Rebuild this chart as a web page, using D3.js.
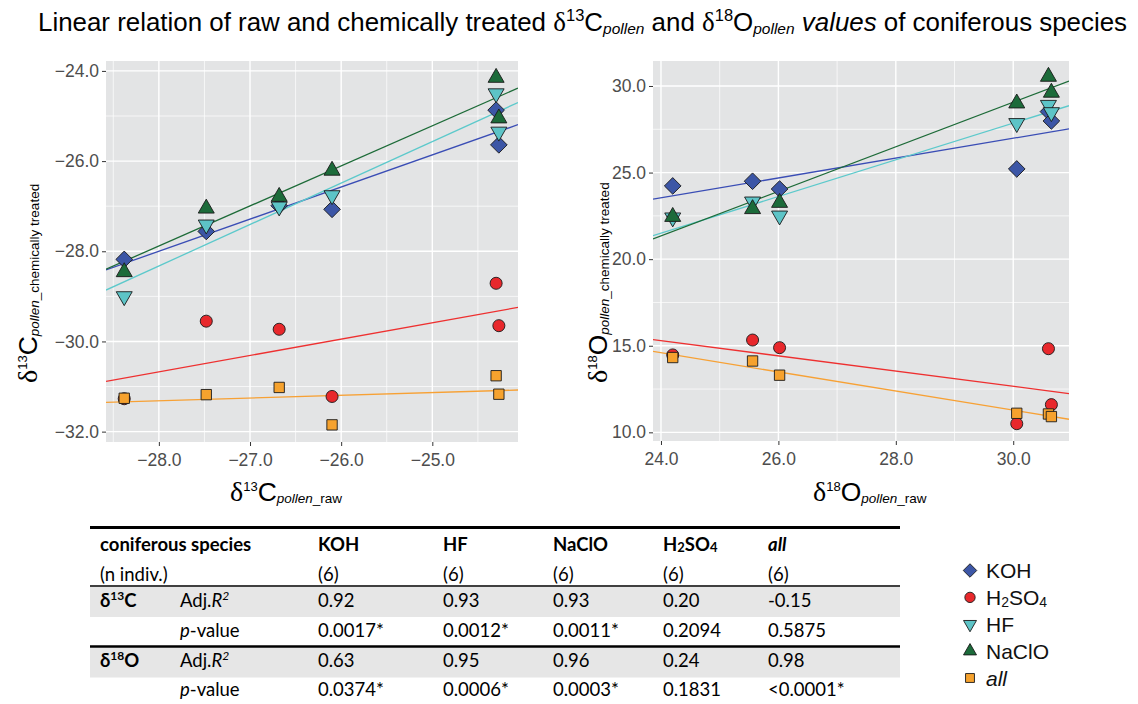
<!DOCTYPE html>
<html>
<head>
<meta charset="utf-8">
<script src="https://cdn.jsdelivr.net/npm/d3@7"></script>
<style>
  body { margin: 0; background: #fff; }
  svg { display: block; }
</style>
</head>
<body>
<svg id="chart" width="1138" height="704"></svg>
<script>
// ---- data -------------------------------------------------------------
const treatments = ["KOH", "H2SO4", "HF", "NaClO", "all"];

// δ13C: raw pollen values of the six individuals and treated values
const c13Raw    = [-28.38, -27.48, -26.68, -26.10, -24.30, -24.27];
const c13KOH    = [-28.18, -27.56, -26.99, -27.07, -24.87, -25.64];
const c13H2SO4  = [-31.27, -29.55, -29.73, -31.22, -28.71, -29.65];
const c13HF     = [-29.00, -27.41, -27.01, -26.76, -24.50, -25.35];
const c13NaClO  = [-28.46, -27.05, -26.79, -26.21, -24.15, -25.05];
const c13All    = [-31.26, -31.18, -31.02, -31.85, -30.76, -31.17];

// δ18O: raw pollen values and treated values
const o18Raw    = [24.20, 25.56, 26.02, 30.06, 30.60, 30.65];
const o18KOH    = [24.23, 24.50, 24.05, 25.21, 28.52, 27.98];
const o18H2SO4  = [14.47, 15.33, 14.89, 10.50, 14.83, 11.60];
const o18HF     = [22.40, 23.32, 22.51, 27.85, 28.90, 28.48];
const o18NaClO  = [22.45, 22.90, 23.26, 29.00, 30.54, 29.62];
const o18All    = [14.32, 14.12, 13.30, 11.10, 11.06, 10.91];

const c13XTicks = [-28, -27, -26, -25];
const c13YTicks = [-32, -30, -28, -26, -24];
const o18XTicks = [24, 26, 28, 30];
const o18YTicks = [10, 15, 20, 25, 30];

// summary table
const tableColumns = ["KOH", "HF", "NaClO", "H2SO4", "all"];
const nIndiv       = ["(6)", "(6)", "(6)", "(6)", "(6)"];
const c13AdjR2     = ["0.92", "0.93", "0.93", "0.20", "-0.15"];
const c13PValue    = ["0.0017*", "0.0012*", "0.0011*", "0.2094", "0.5875"];
const o18AdjR2     = ["0.63", "0.95", "0.96", "0.24", "0.98"];
const o18PValue    = ["0.0374*", "0.0006*", "0.0003*", "0.1831", "<0.0001*"];

// ---- styling ----------------------------------------------------------
const fillColor = { KOH: "#3C56A6", H2SO4: "#E8282C", HF: "#5DC4C7", NaClO: "#1C6B3A", all: "#F6A22E" };
const lineColor = { KOH: "#3A4DB5", H2SO4: "#EE3030", HF: "#5CC9CB", NaClO: "#1D6B38", all: "#F7A135" };
const drawOrder = ["KOH", "HF", "NaClO", "H2SO4", "all"];

const SANS = "'Liberation Sans', Arial, sans-serif";
const SERIF = "'Liberation Serif', 'Times New Roman', serif";
const TABLE = "Lato, 'Open Sans', sans-serif";

const svg = d3.select("#chart");

// rich text: parts with their own size/style and a vertical shift (px, up positive)
function richText(sel, parts) {
  let prev = 0;
  parts.forEach(p => {
    const shift = p.shift || 0;
    const ts = sel.append("tspan").text(p.t);
    if (shift !== prev) ts.attr("dy", -(shift - prev));
    if (p.size) ts.attr("font-size", p.size);
    if (p.style) ts.attr("font-style", p.style);
    if (p.weight) ts.attr("font-weight", p.weight);
    if (p.family) ts.attr("font-family", p.family);
    prev = shift;
  });
  return sel;
}

function fit(xs, ys) {
  const mx = d3.mean(xs), my = d3.mean(ys);
  let sxy = 0, sxx = 0;
  xs.forEach((x, i) => { sxy += (x - mx) * (ys[i] - my); sxx += (x - mx) * (x - mx); });
  const b = sxy / sxx;
  return { b, a: my - b * mx };
}

function markerPath(type, s) {
  switch (type) {
    case "KOH": return `M0,${-s * 0.52}L${s * 0.52},0L0,${s * 0.52}L${-s * 0.52},0Z`;
    case "H2SO4": return d3.symbol(d3.symbolCircle, Math.PI * (s * 0.43) ** 2)();
    case "HF": { const h = s * 0.87, w = s * 0.5; return `M${-w},${-h / 3}L${w},${-h / 3}L0,${2 * h / 3}Z`; }
    case "NaClO": { const h = s * 0.87, w = s * 0.5; return `M${-w},${h / 3}L${w},${h / 3}L0,${-2 * h / 3}Z`; }
    case "all": return `M${-s * 0.37},${-s * 0.37}h${s * 0.74}v${s * 0.74}h${-s * 0.74}Z`;
  }
}

// ---- panels -----------------------------------------------------------
function panel(cfg) {
  const x = d3.scaleLinear().domain(cfg.xDomain).range([cfg.x0, cfg.x1]);
  const y = d3.scaleLinear().domain(cfg.yDomain).range([cfg.y1, cfg.y0]);
  const g = svg.append("g");

  g.append("rect").attr("x", cfg.x0).attr("y", cfg.y0)
    .attr("width", cfg.x1 - cfg.x0).attr("height", cfg.y1 - cfg.y0)
    .attr("fill", "#E3E4E5");

  const clipId = "clip" + cfg.id;
  svg.append("clipPath").attr("id", clipId).append("rect")
    .attr("x", cfg.x0).attr("y", cfg.y0).attr("width", cfg.x1 - cfg.x0).attr("height", cfg.y1 - cfg.y0);

  const grid = g.append("g").attr("clip-path", `url(#${clipId})`);
  // minor grid halfway between major ticks
  const xStep = cfg.xTicks[1] - cfg.xTicks[0], yStep = cfg.yTicks[1] - cfg.yTicks[0];
  const xMinor = d3.range(cfg.xTicks[0] - xStep / 2, cfg.xDomain[1], xStep).filter(v => v > cfg.xDomain[0]);
  const yMinor = d3.range(cfg.yTicks[0] - yStep / 2, cfg.yDomain[1], yStep).filter(v => v > cfg.yDomain[0]);
  grid.selectAll(".xm").data(xMinor).join("line")
    .attr("x1", d => x(d)).attr("x2", d => x(d)).attr("y1", cfg.y0).attr("y2", cfg.y1)
    .attr("stroke", "#fff").attr("stroke-width", 0.7);
  grid.selectAll(".ym").data(yMinor).join("line")
    .attr("y1", d => y(d)).attr("y2", d => y(d)).attr("x1", cfg.x0).attr("x2", cfg.x1)
    .attr("stroke", "#fff").attr("stroke-width", 0.7);
  grid.selectAll(".xM").data(cfg.xTicks).join("line")
    .attr("x1", d => x(d)).attr("x2", d => x(d)).attr("y1", cfg.y0).attr("y2", cfg.y1)
    .attr("stroke", "#fff").attr("stroke-width", 1.4);
  grid.selectAll(".yM").data(cfg.yTicks).join("line")
    .attr("y1", d => y(d)).attr("y2", d => y(d)).attr("x1", cfg.x0).attr("x2", cfg.x1)
    .attr("stroke", "#fff").attr("stroke-width", 1.4);

  // axes
  const fmt = d3.format(".1f");
  const ax = g.append("g").attr("transform", `translate(0,${cfg.y1})`)
    .call(d3.axisBottom(x).tickValues(cfg.xTicks).tickFormat(fmt).tickSize(4).tickPadding(5));
  const ay = g.append("g").attr("transform", `translate(${cfg.x0},0)`)
    .call(d3.axisLeft(y).tickValues(cfg.yTicks).tickFormat(fmt).tickSize(4).tickPadding(3));
  [ax, ay].forEach(a => {
    a.select(".domain").remove();
    a.selectAll(".tick line").attr("stroke", "#333").attr("stroke-width", 1);
    a.selectAll(".tick text").attr("fill", "#4D4D4D").attr("font-size", 17.5).attr("font-family", SANS);
  });
  ax.selectAll(".tick text").attr("dy", "0.85em");

  // regression lines over the full x range
  const lines = g.append("g").attr("clip-path", `url(#${clipId})`);
  drawOrder.forEach(k => {
    const f = fit(cfg.raw, cfg.values[k]);
    const xs = cfg.xDomain;
    lines.append("line")
      .attr("x1", x(xs[0])).attr("y1", y(f.a + f.b * xs[0]))
      .attr("x2", x(xs[1])).attr("y2", y(f.a + f.b * xs[1]))
      .attr("stroke", lineColor[k]).attr("stroke-width", 1.3);
  });

  // points
  const pts = g.append("g");
  drawOrder.forEach(k => {
    pts.selectAll(null).data(cfg.values[k].map((v, i) => [cfg.raw[i], v])).join("path")
      .attr("transform", d => `translate(${x(d[0])},${y(d[1])})`)
      .attr("d", markerPath(k, k === "H2SO4" ? 14 : k === "all" ? 14 : 16))
      .attr("fill", fillColor[k]).attr("stroke", "#1a1a1a").attr("stroke-width", 0.9);
  });
}

panel({
  id: "c13", x0: 106, x1: 518, y0: 61, y1: 442,
  xDomain: [-28.58, -24.06], yDomain: [-32.23, -23.78],
  xTicks: c13XTicks, yTicks: c13YTicks, raw: c13Raw,
  values: { KOH: c13KOH, H2SO4: c13H2SO4, HF: c13HF, NaClO: c13NaClO, all: c13All }
});
panel({
  id: "o18", x0: 653, x1: 1069, y0: 61, y1: 441,
  xDomain: [23.864, 30.95], yDomain: [9.50, 31.443],
  xTicks: o18XTicks, yTicks: o18YTicks, raw: o18Raw,
  values: { KOH: o18KOH, H2SO4: o18H2SO4, HF: o18HF, NaClO: o18NaClO, all: o18All }
});

// ---- titles -----------------------------------------------------------
richText(svg.append("text").attr("x", 38).attr("y", 31).attr("font-family", SANS)
  .attr("font-size", 25.9).attr("fill", "#000"), [
  { t: "Linear relation of raw and chemically treated " },
  { t: "δ", family: SERIF, size: 27 },
  { t: "13", size: 16.5, shift: 10 },
  { t: "C" },
  { t: "pollen", size: 15.5, style: "italic", shift: -3 },
  { t: " and " },
  { t: "δ", family: SERIF, size: 27 },
  { t: "18", size: 16.5, shift: 10 },
  { t: "O" },
  { t: "pollen", size: 15.5, style: "italic", shift: -3 },
  { t: " " },
  { t: "values", style: "italic" },
  { t: " of coniferous species" }
]);

function axisTitle(sel, iso, el, tail) {
  return richText(sel.attr("font-family", SANS).attr("fill", "#000").attr("font-size", 26.5), [
    { t: "δ", family: SERIF, size: 28 },
    { t: iso, size: 13, shift: 10 },
    { t: el },
    { t: "pollen", size: 13.5, style: "italic", shift: -2 },
    { t: tail, size: 13.5, shift: -2 }
  ]);
}
axisTitle(svg.append("text").attr("x", 230).attr("y", 501), "13", "C", "_raw");
axisTitle(svg.append("text").attr("x", 813).attr("y", 501), "18", "O", "_raw");
axisTitle(svg.append("text").attr("transform", "translate(37,383) rotate(-90)"), "13", "C", "_chemically treated");
axisTitle(svg.append("text").attr("transform", "translate(607,383) rotate(-90)"), "18", "O", "_chemically treated");

// ---- legend -----------------------------------------------------------
const legendItems = [
  { k: "KOH", label: [{ t: "KOH" }] },
  { k: "H2SO4", label: [{ t: "H" }, { t: "2", size: 14, shift: -2 }, { t: "SO" }, { t: "4", size: 14, shift: -2 }] },
  { k: "HF", label: [{ t: "HF" }] },
  { k: "NaClO", label: [{ t: "NaClO" }] },
  { k: "all", label: [{ t: "all", style: "italic" }] }
];
const legY = d3.scalePoint().domain(treatments).range([570.5, 678]);
const leg = svg.append("g");
legendItems.forEach(it => {
  const yy = legY(it.k);
  leg.append("path").attr("transform", `translate(970,${yy})`)
    .attr("d", markerPath(it.k, it.k === "H2SO4" ? 12 : it.k === "all" ? 12 : 13))
    .attr("fill", fillColor[it.k]).attr("stroke", "#1a1a1a").attr("stroke-width", 0.9);
  richText(leg.append("text").attr("x", 986).attr("y", yy + 7.5).attr("font-family", SANS)
    .attr("font-size", 21).attr("fill", "#111"), it.label);
});

// ---- summary table ----------------------------------------------------
const tb = svg.append("g").attr("font-family", TABLE).attr("font-size", 18.5).attr("fill", "#000");
const tableColX = { KOH: 318, HF: 443, NaClO: 553, H2SO4: 663, all: 768 };
const TX0 = 90, TX1 = 900;

tb.append("rect").attr("x", TX0).attr("y", 587).attr("width", TX1 - TX0).attr("height", 30).attr("fill", "#E6E6E6");
tb.append("rect").attr("x", TX0).attr("y", 647.5).attr("width", TX1 - TX0).attr("height", 30).attr("fill", "#E6E6E6");
tb.append("line").attr("x1", TX0).attr("x2", TX1).attr("y1", 527.5).attr("y2", 527.5).attr("stroke", "#000").attr("stroke-width", 3);
tb.append("line").attr("x1", TX0).attr("x2", TX1).attr("y1", 586).attr("y2", 586).attr("stroke", "#000").attr("stroke-width", 1.5);
tb.append("line").attr("x1", TX0).attr("x2", TX1).attr("y1", 646.5).attr("y2", 646.5).attr("stroke", "#000").attr("stroke-width", 2.5);

const rowY = [551, 581, 607, 637, 667, 696];
tb.append("text").attr("x", 100).attr("y", rowY[0]).attr("font-weight", 700).text("coniferous species");
tb.append("text").attr("x", 100).attr("y", rowY[1]).text("(n indiv.)");

const headLabels = {
  KOH: [{ t: "KOH" }], HF: [{ t: "HF" }], NaClO: [{ t: "NaClO" }],
  H2SO4: [{ t: "H" }, { t: "2", size: 13, shift: -1 }, { t: "SO" }, { t: "4", size: 13, shift: -1 }],
  all: [{ t: "all", style: "italic" }]
};
tableColumns.forEach((c, i) => {
  richText(tb.append("text").attr("x", tableColX[c]).attr("y", rowY[0]).attr("font-weight", 700), headLabels[c]);
  tb.append("text").attr("x", tableColX[c]).attr("y", rowY[1]).text(nIndiv[i]);
  tb.append("text").attr("x", tableColX[c]).attr("y", rowY[2]).text(c13AdjR2[i]);
  tb.append("text").attr("x", tableColX[c]).attr("y", rowY[3]).text(c13PValue[i]);
  tb.append("text").attr("x", tableColX[c]).attr("y", rowY[4]).text(o18AdjR2[i]);
  tb.append("text").attr("x", tableColX[c]).attr("y", rowY[5]).text(o18PValue[i]);
});

richText(tb.append("text").attr("x", 100).attr("y", rowY[2]).attr("font-weight", 700),
  [{ t: "δ" }, { t: "13", size: 12, shift: 7 }, { t: "C" }]);
richText(tb.append("text").attr("x", 100).attr("y", rowY[4]).attr("font-weight", 700),
  [{ t: "δ" }, { t: "18", size: 12, shift: 7 }, { t: "O" }]);
[rowY[2], rowY[4]].forEach(yy => richText(tb.append("text").attr("x", 180).attr("y", yy),
  [{ t: "Adj." }, { t: "R", style: "italic" }, { t: "2", size: 12, style: "italic", shift: 7 }]));
[rowY[3], rowY[5]].forEach(yy => richText(tb.append("text").attr("x", 180).attr("y", yy),
  [{ t: "p", style: "italic" }, { t: "-value" }]));
</script>
</body>
</html>
